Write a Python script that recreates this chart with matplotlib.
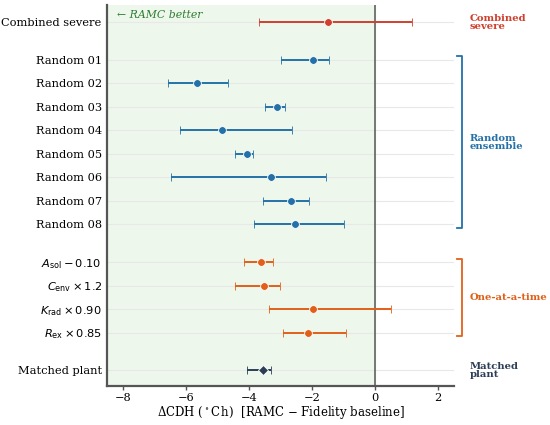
import matplotlib

matplotlib.use("Agg")
import matplotlib.pyplot as plt
import numpy as np

plt.rcParams["font.family"] = ["DejaVu Serif"]

labels = [
    "Combined severe",
    "Random 01", "Random 02", "Random 03", "Random 04",
    "Random 05", "Random 06", "Random 07", "Random 08",
    r"$A_{\mathrm{sol}} - 0.10$",
    r"$C_{\mathrm{env}} \times 1.2$",
    r"$K_{\mathrm{rad}} \times 0.90$",
    r"$R_{\mathrm{ex}} \times 0.85$",
    "Matched plant",
]
groups = ["severe"] + ["random"] * 8 + ["oat"] * 4 + ["matched"]
center = [-1.50, -1.98, -5.64, -3.10, -4.86, -4.07, -3.29, -2.67, -2.53,
          -3.62, -3.51, -1.96, -2.14, -3.57]
low = [-3.68, -2.98, -6.56, -3.49, -6.18, -4.43, -6.48, -3.56, -3.83,
       -4.17, -4.43, -3.35, -2.91, -4.06]
high = [1.18, -1.45, -4.67, -2.87, -2.63, -3.86, -1.55, -2.09, -0.99,
        -3.25, -3.01, 0.51, -0.92, -3.30]

colors = {
    "severe": "#d0402e",
    "random": "#2471a8",
    "oat": "#e0601a",
    "matched": "#2c3e56",
}
group_names = {
    "severe": "Combined\nsevere",
    "random": "Random\nensemble",
    "oat": "One-at-a-time",
    "matched": "Matched\nplant",
}

# row positions, with a gap between groups
ypos = []
y = 0.0
prev = None
for g in reversed(groups):
    if prev is not None:
        y += 1.6 if g != prev else 1.0
    ypos.append(y)
    prev = g
ypos = ypos[::-1]

fig = plt.figure(figsize=(5.5, 4.25), dpi=100)
ax = fig.add_axes([0.195, 0.091, 0.63, 0.897])

ax.axvspan(-8.5, 0, color="#eef7ec", zorder=0)
ax.axvline(0, color="#555555", linewidth=1.1, zorder=1)

for yy in ypos:
    ax.axhline(yy, color="#e8e8e8", linewidth=0.8, zorder=0.5)

for i in range(len(labels)):
    c = colors[groups[i]]
    err = [[center[i] - low[i]], [high[i] - center[i]]]
    marker = "D" if groups[i] == "matched" else "o"
    ms = 5.0 if groups[i] == "matched" else 5.6
    ax.errorbar(center[i], ypos[i], xerr=err, fmt=marker, color=c,
                ecolor=c, elinewidth=1.4, capsize=2.8, capthick=1.2,
                markersize=ms, markeredgecolor="white", markeredgewidth=0.6,
                zorder=3)

ax.set_yticks(ypos)
ax.set_yticklabels(labels, fontsize=8.2)
ax.tick_params(axis="y", length=0, pad=4)
ax.tick_params(axis="x", labelsize=8.2, color="#555555", width=1.0,
               length=3, pad=1.5)
ax.set_xlim(-8.5, 2.5)
ax.set_ylim(-0.68, 15.52)
ax.set_xticks([-8, -6, -4, -2, 0, 2])
ax.set_xticklabels(["\u22128", "\u22126", "\u22124", "\u22122", "0", "2"])
ax.set_xlabel(r"$\Delta\mathrm{CDH}\ (^\circ\mathrm{C\,h})$  [RAMC $-$ Fidelity baseline]",
              fontsize=8.5, labelpad=1, math_fontfamily="dejavuserif")

for side in ["top", "right"]:
    ax.spines[side].set_visible(False)
for side in ["left", "bottom"]:
    ax.spines[side].set_color("#555555")
    ax.spines[side].set_linewidth(1.6)

ax.text(-8.2, ypos[0] + 0.32, "\u2190 RAMC better", color="#2e7d32",
        fontsize=7.8, style="italic", va="center", ha="left")

trans = ax.get_yaxis_transform()
for g in ["severe", "random", "oat", "matched"]:
    idx = [i for i in range(len(groups)) if groups[i] == g]
    top = ypos[idx[0]]
    bot = ypos[idx[-1]]
    mid = (top + bot) / 2
    c = colors[g]
    if len(idx) > 1:
        ax.plot([1.01, 1.023, 1.023, 1.01],
                [top + 0.15, top + 0.15, bot - 0.15, bot - 0.15],
                transform=trans, color=c, linewidth=1.3, clip_on=False)
    ax.text(1.045, mid, group_names[g], transform=trans, color=c,
            fontsize=7.2, fontweight="bold", va="center", ha="left",
            linespacing=0.85)

fig.savefig("out.png", dpi=100)
